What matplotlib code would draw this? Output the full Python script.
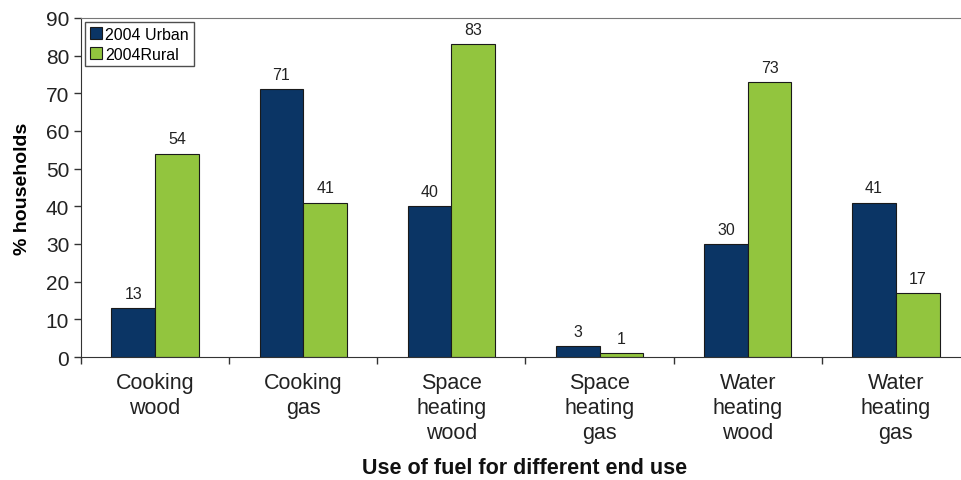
import numpy as np
import matplotlib.pyplot as plt

plt.rcParams['font.family'] = ['Liberation Sans', 'DejaVu Sans']

categories = ["Cooking\nwood", "Cooking\ngas", "Space\nheating\nwood",
              "Space\nheating\ngas", "Water\nheating\nwood", "Water\nheating\ngas"]
urban = [13, 71, 40, 3, 30, 41]
rural = [54, 41, 83, 1, 73, 17]

urban_color = "#0b3565"
rural_color = "#92c53e"

fig = plt.figure(figsize=(9.61, 4.81), dpi=100)
ax = fig.add_axes([0.0843, 0.2557, 0.925, 0.705])

x = np.arange(len(categories))
w = 0.295
b1 = ax.bar(x - w / 2, urban, w, color=urban_color, edgecolor="#1a1a1a", linewidth=0.8, label="2004 Urban")
b2 = ax.bar(x + w / 2, rural, w, color=rural_color, edgecolor="#1a1a1a", linewidth=0.8, label="2004Rural")

for bars, vals in ((b1, urban), (b2, rural)):
    for bar, v in zip(bars, vals):
        ax.text(bar.get_x() + bar.get_width() / 2, v + 1.9, str(v),
                ha="center", va="bottom", fontsize=11.5, color="#222222")

ax.set_xlim(-0.5, len(categories) - 0.5)
ax.set_ylim(0, 90)
ax.set_yticks(range(0, 91, 10))
ax.tick_params(axis="y", labelsize=15, length=5, width=1, color="#333333", labelcolor="#222222")

# ticks on category boundaries, labels at centres
ax.set_xticks(np.arange(-0.5, len(categories), 1))
ax.set_xticklabels([])
ax.set_xticks(x, minor=True)
ax.set_xticklabels(categories, minor=True, fontsize=15.5, color="#222222", linespacing=1.25)
ax.tick_params(axis="x", which="major", length=5, width=1, color="#333333")
ax.tick_params(axis="x", which="minor", length=0, pad=11)

ax.spines["right"].set_visible(False)
ax.spines["top"].set_color("#777777")
ax.spines["left"].set_color("#333333")
ax.spines["bottom"].set_color("#333333")

ax.set_ylabel("% households", fontsize=14, fontweight="bold", labelpad=11)
fig.text(0.546, 0.004, "Use of fuel for different end use", ha="center", va="bottom",
         fontsize=15.5, fontweight="bold", color="#111111")

leg = ax.legend(loc="upper left", fontsize=11.5, frameon=True, fancybox=False,
                edgecolor="#222222", handlelength=0.75, handleheight=0.75,
                handletextpad=0.2, borderpad=0.3, labelspacing=0.3,
                borderaxespad=0, bbox_to_anchor=(0.005, 0.988))
leg.get_frame().set_linewidth(1.0)

fig.savefig("out.png", dpi=100)
